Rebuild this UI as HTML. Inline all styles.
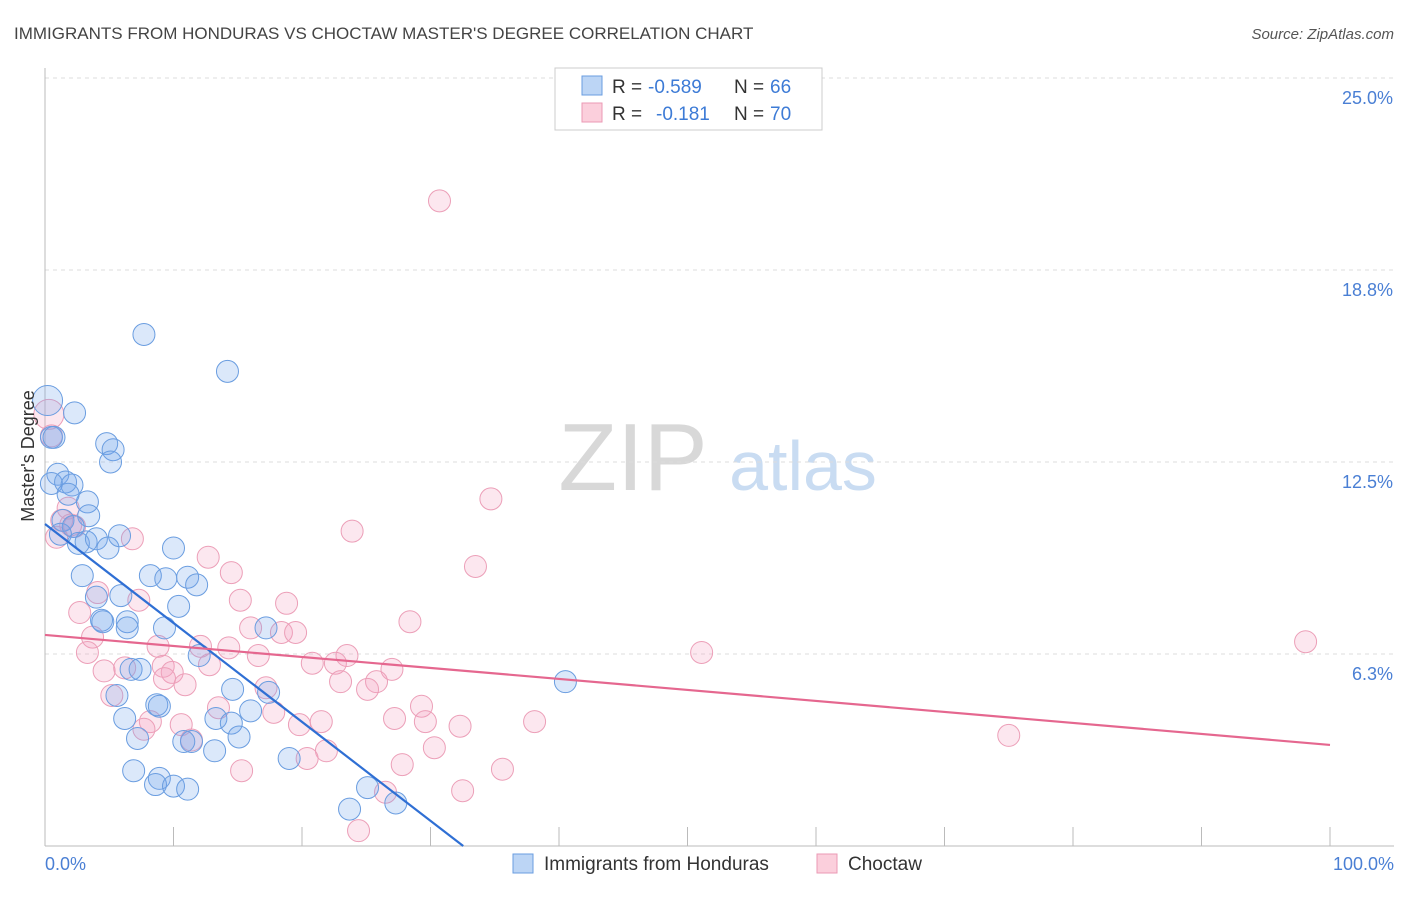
<!DOCTYPE html>
<html><head><meta charset="utf-8">
<style>
body{margin:0;background:#fff;font-family:"Liberation Sans",sans-serif;}
svg text{font-family:"Liberation Sans",sans-serif;}
</style></head>
<body>
<svg id="chart" width="1406" height="892" xmlns="http://www.w3.org/2000/svg">
<text x="14" y="39" font-size="17" fill="#444">IMMIGRANTS FROM HONDURAS VS CHOCTAW MASTER'S DEGREE CORRELATION CHART</text>
<text x="1394" y="39" font-size="15" fill="#555" text-anchor="end" font-style="italic">Source: ZipAtlas.com</text>
<g>
<text x="633" y="490" font-size="96" fill="#d8d8d8" text-anchor="middle" font-family="Liberation Serif">ZIP</text>
<text x="803" y="490" font-size="70" fill="#c9dcf2" text-anchor="middle">atlas</text>
</g>
<g id="grid"></g>
<g id="axes"></g>
<g id="marks"></g>
<g>
<rect x="555" y="68" width="267" height="62" fill="#fff" stroke="#ccc"/>
<rect x="582" y="76" width="20" height="19" fill="#bcd5f5" stroke="#6a9de0"/>
<rect x="582" y="103" width="20" height="19" fill="#fbcfdc" stroke="#eb9ab4"/>
<text x="612" y="93" font-size="19" fill="#333">R =</text>
<text x="648" y="93" font-size="19" fill="#3d7bd6">-0.589</text>
<text x="734" y="93" font-size="19" fill="#333">N =</text>
<text x="770" y="93" font-size="19" fill="#3d7bd6">66</text>
<text x="612" y="120" font-size="19" fill="#333">R =</text>
<text x="656" y="120" font-size="19" fill="#3d7bd6">-0.181</text>
<text x="734" y="120" font-size="19" fill="#333">N =</text>
<text x="770" y="120" font-size="19" fill="#3d7bd6">70</text>
</g>
<g>
<rect x="513" y="854" width="20" height="19" fill="#bcd5f5" stroke="#6a9de0"/>
<text x="544" y="870" font-size="19" fill="#333">Immigrants from Honduras</text>
<rect x="817" y="854" width="20" height="19" fill="#fbcfdc" stroke="#eb9ab4"/>
<text x="848" y="870" font-size="19" fill="#333">Choctaw</text>
</g>
<text transform="translate(34,456) rotate(-90)" font-size="18" fill="#333" text-anchor="middle">Master's Degree</text>
</svg>
<script>
const yTicks=[6.25,12.5,18.75,25];
const yTickLabels=["6.3%","12.5%","18.8%","25.0%"];
const xTickLabels=["0.0%","100.0%"];
const blueX=[0.2,2.3,0.5,0.7,4.8,5.3,5.1,1.0,0.5,1.6,2.1,1.8,3.3,1.4,3.4,2.2,1.2,2.6,3.2,4.0,4.9,5.8,2.9,10.0,8.2,9.4,11.1,11.8,4.0,5.9,10.4,4.4,4.5,6.4,6.4,9.3,17.2,12.0,6.7,7.4,14.6,17.4,6.2,8.7,8.9,13.3,14.5,16.0,15.1,7.2,11.4,13.2,6.9,8.9,8.6,10.0,11.1,19.0,25.1,27.3,23.7,40.5,7.7,14.2,5.6,10.8];
const blueY=[14.5,14.1,13.3,13.3,13.1,12.9,12.5,12.1,11.8,11.85,11.75,11.45,11.2,10.6,10.75,10.4,10.15,9.85,9.9,10.0,9.7,10.1,8.8,9.7,8.8,8.7,8.75,8.5,8.1,8.15,7.8,7.35,7.3,7.3,7.1,7.1,7.1,6.2,5.75,5.75,5.1,5.0,4.15,4.6,4.55,4.15,4.0,4.4,3.55,3.5,3.4,3.1,2.45,2.2,2.0,1.95,1.85,2.85,1.9,1.4,1.2,5.35,16.65,15.45,4.9,3.4];
const pinkX=[30.7,0.3,0.5,1.8,1.3,2.0,0.9,2.3,6.8,34.7,23.9,33.5,12.7,14.5,2.7,4.1,7.3,15.2,18.8,28.4,3.7,8.8,12.1,14.3,18.4,19.5,16.0,3.3,51.1,98.1,9.2,16.6,20.8,23.5,22.6,4.6,6.2,9.9,27.0,12.8,9.3,10.9,23.0,25.8,17.2,25.1,5.2,17.8,29.3,8.2,10.6,13.5,19.8,21.5,27.2,29.6,32.3,38.1,75.0,11.4,7.7,21.9,30.3,15.3,20.4,27.8,35.6,26.5,32.5,24.4];
const pinkY=[21.0,14.05,13.35,11.0,10.6,10.45,10.05,10.4,10.0,11.3,10.25,9.1,9.4,8.9,7.6,8.25,8.0,8.0,7.9,7.3,6.8,6.5,6.5,6.45,6.95,6.95,7.1,6.3,6.3,6.65,5.85,6.2,5.95,6.2,5.95,5.7,5.8,5.65,5.75,5.9,5.45,5.25,5.35,5.35,5.15,5.1,4.9,4.35,4.55,4.05,3.95,4.5,3.95,4.05,4.15,4.05,3.9,4.05,3.6,3.45,3.8,3.1,3.2,2.45,2.85,2.65,2.5,1.75,1.8,0.5];
const blueTrend=[10.48,-0.322];
const pinkTrend=[6.87,-0.0358];
const NS="http://www.w3.org/2000/svg";
const X0=45,X1=1330,Y0=846,Y25=78;
function sx(v){return X0+(X1-X0)*v/100;}
function sy(v){return Y0-(Y0-Y25)*v/25;}
function mk(tag,attrs,parent){const e=document.createElementNS(NS,tag);for(const k in attrs)e.setAttribute(k,attrs[k]);parent.appendChild(e);return e;}
const grid=document.getElementById('grid'),axes=document.getElementById('axes'),marks=document.getElementById('marks');
yTicks.forEach((t,i)=>{
 const l=mk('line',{x1:X0,x2:1394,y1:sy(t),y2:sy(t),stroke:'#ddd','stroke-dasharray':'4,4'},grid);
 
 
 const tx=mk('text',{x:1393,y:sy(t)+26,'font-size':18,fill:'#4a7fd4','text-anchor':'end'},axes);
 tx.textContent=yTickLabels[i];
 
 
});
let ax=mk('line',{x1:X0,x2:X0,y1:68,y2:Y0,stroke:'#bbb'},axes);


ax=mk('line',{x1:X0,x2:1394,y1:Y0,y2:Y0,stroke:'#bbb'},axes);


for(let i=0;i<=10;i++){
 const t=mk('line',{x1:sx(i*10),x2:sx(i*10),y1:827,y2:Y0,stroke:'#bbb'},axes);
 
 
}
[[0,'start',45],[100,'end',1394]].forEach((d,i)=>{
 const t=mk('text',{x:d[2],y:870,'font-size':18,fill:'#4a7fd4','text-anchor':d[1]},axes);
 t.textContent=xTickLabels[i];
 
 
});
function pts(xs,ys,fill,stroke,name){
 xs.forEach((x,i)=>{
  const big=(x<0.6&&ys[i]>13.9);
  const c=mk('circle',{cx:sx(x),cy:sy(ys[i]),r:big?15:11,fill:fill,stroke:stroke,'stroke-width':1},marks);
  
  
 });
}
pts(pinkX,pinkY,'rgba(244,160,190,0.25)','#ec9fb8','choctaw-point');
pts(blueX,blueY,'rgba(110,165,235,0.25)','#6a9de0','honduras-point');
const bxEnd=-blueTrend[0]/blueTrend[1];
let tl=mk('line',{x1:sx(0),y1:sy(blueTrend[0]),x2:sx(bxEnd),y2:sy(0),stroke:'#2f6fd4','stroke-width':2.2},marks);


tl=mk('line',{x1:sx(0),y1:sy(pinkTrend[0]),x2:sx(100),y2:sy(pinkTrend[0]+pinkTrend[1]*100),stroke:'#e5678f','stroke-width':2.2},marks);


</script>
</body></html>
